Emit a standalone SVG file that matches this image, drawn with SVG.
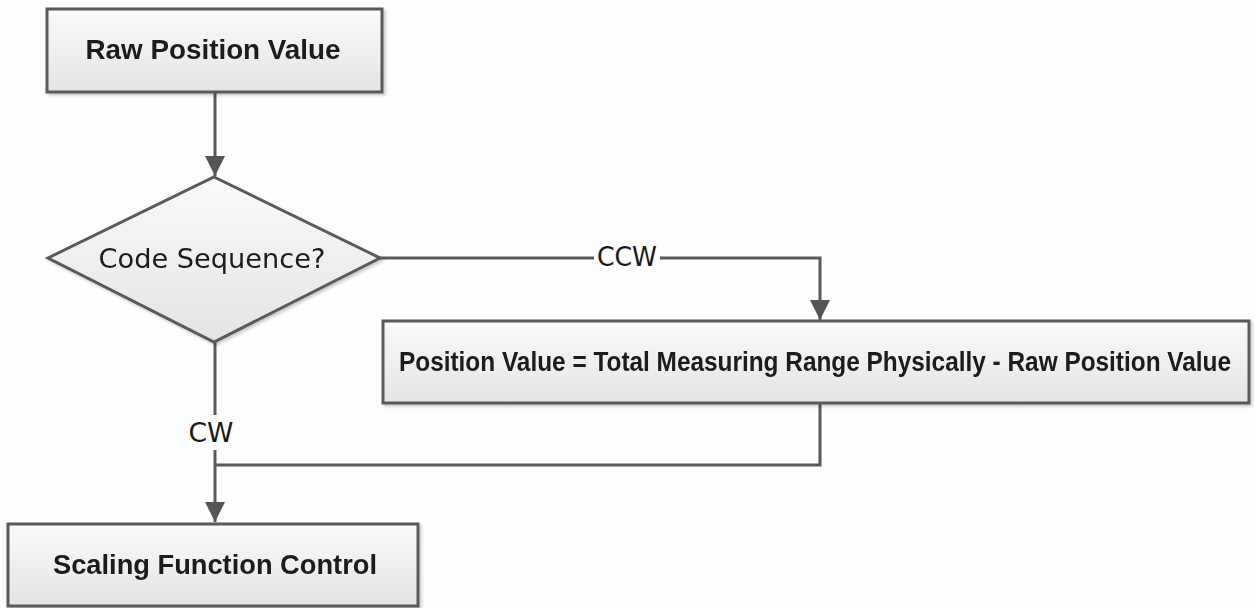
<svg xmlns="http://www.w3.org/2000/svg" width="1255" height="608" viewBox="0 0 1255 608">
<style>
.node{stroke:#5a5a5a;stroke-width:3;fill:url(#g)}
.conn{fill:none;stroke:#5a5a5a;stroke-width:3}
.bt{font-family:"Liberation Sans",Arial,sans-serif;font-weight:bold;font-size:28px;fill:#1a1a1a;text-anchor:middle}
.tt{font-family:"DejaVu Sans",Tahoma,sans-serif;font-size:27px;fill:#1a1a1a;text-anchor:middle}
.lbl{font-family:"DejaVu Sans",Tahoma,sans-serif;font-size:26px;fill:#1a1a1a;text-anchor:middle}
</style>
<defs>
<linearGradient id="g" x1="0" y1="0" x2="0" y2="1">
<stop offset="0" stop-color="#fafafa"/>
<stop offset="1" stop-color="#e4e4e4"/>
</linearGradient>
<filter id="sh" x="-5%" y="-5%" width="110%" height="120%">
<feDropShadow dx="2" dy="2" stdDeviation="1.5" flood-color="#000" flood-opacity="0.2"/>
</filter>
<marker id="ah" viewBox="0 0 20 20" refX="20" refY="10" markerWidth="20" markerHeight="20" markerUnits="userSpaceOnUse" orient="auto">
<path d="M0,0 L20,10 L0,20 Z" fill="#555"/>
</marker>
</defs>
<rect width="1255" height="608" fill="#fdfdfd"/>
<g id="connectors">
<path class="conn" d="M215,92 V176" marker-end="url(#ah)"/>
<path class="conn" d="M380,258 H820 V320" marker-end="url(#ah)"/>
<path class="conn" d="M820,403 V465 H215"/>
<path class="conn" d="M215,342 V522" marker-end="url(#ah)"/>
<rect x="594" y="243" width="66" height="30" fill="#fdfdfd"/>
<text class="lbl" x="627" y="266" textLength="60" lengthAdjust="spacingAndGlyphs">CCW</text>
<rect x="185" y="415" width="52" height="35" fill="#fdfdfd"/>
<text class="lbl" x="211" y="442" textLength="45" lengthAdjust="spacingAndGlyphs">CW</text>
</g>
<g id="n1" filter="url(#sh)">
<rect class="node" x="47" y="9" width="335" height="83"/>
<text class="bt" x="213" y="59" textLength="255" lengthAdjust="spacingAndGlyphs">Raw Position Value</text>
</g>
<g id="n2" filter="url(#sh)">
<polygon class="node" points="214,177 380,258 214,342 48,258"/>
<text class="tt" x="212" y="268" textLength="227" lengthAdjust="spacingAndGlyphs">Code Sequence?</text>
</g>
<g id="n3" filter="url(#sh)">
<rect class="node" x="383" y="321" width="866" height="82"/>
<text class="bt" x="815" y="371" font-size="24" textLength="832" lengthAdjust="spacingAndGlyphs">Position Value = Total Measuring Range Physically - Raw Position Value</text>
</g>
<g id="n4" filter="url(#sh)">
<rect class="node" x="8" y="524" width="410" height="82"/>
<text class="bt" x="215" y="574" textLength="324" lengthAdjust="spacingAndGlyphs">Scaling Function Control</text>
</g>
</svg>
